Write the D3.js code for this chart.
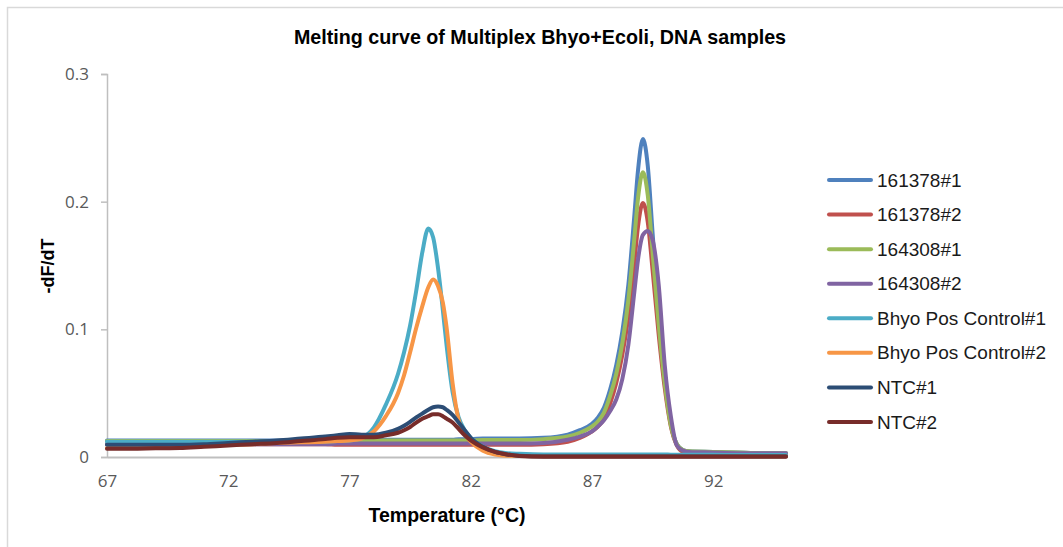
<!DOCTYPE html>
<html>
<head>
<meta charset="utf-8">
<script src="https://cdn.jsdelivr.net/npm/d3@7"></script>
<style>
  body { margin: 0; background: #ffffff; }
  svg { display: block; }
</style>
</head>
<body>
<svg id="chart" width="1063" height="547"></svg>
<script>
// Melting temperatures (°C) shared by every sample
const temperatures = [
  67, 68, 69, 70, 71, 72, 73, 74, 75, 76,
  76.5, 77, 77.5, 78, 78.5, 79, 79.25, 79.5, 79.75, 80,
  80.25, 80.45, 80.65, 80.85, 81, 81.25, 81.5, 81.75, 82, 82.5,
  83, 83.5, 84, 85, 86, 86.5, 87, 87.25, 87.5, 87.75,
  88, 88.25, 88.5, 88.75, 88.9, 89.1, 89.3, 89.5, 89.75, 90,
  90.25, 90.5, 90.75, 91, 92, 93, 94, 95
];

// -dF/dT for each sample
const s161378_1 = [
  0.013, 0.013, 0.013, 0.013, 0.013, 0.013, 0.013, 0.013, 0.013, 0.013,
  0.013, 0.013, 0.013, 0.0135, 0.0135, 0.0135, 0.0135, 0.0135, 0.0135, 0.0135,
  0.0135, 0.0135, 0.0135, 0.0135, 0.0135, 0.0135, 0.014, 0.014, 0.014, 0.0145,
  0.0145, 0.0145, 0.0145, 0.015, 0.0175, 0.021, 0.026, 0.031, 0.039, 0.053,
  0.072, 0.098, 0.135, 0.190, 0.225, 0.249, 0.228, 0.175, 0.113, 0.062,
  0.026, 0.010, 0.0055, 0.0045, 0.004, 0.0035, 0.003, 0.003
];
const s161378_2 = [
  0.010, 0.010, 0.010, 0.010, 0.010, 0.010, 0.010, 0.010, 0.010, 0.010,
  0.0095, 0.0095, 0.0095, 0.0095, 0.0095, 0.0095, 0.0095, 0.0095, 0.0095, 0.0095,
  0.0095, 0.0095, 0.0095, 0.0095, 0.0095, 0.0095, 0.0095, 0.0095, 0.0095, 0.0095,
  0.0095, 0.0095, 0.0095, 0.010, 0.012, 0.015, 0.020, 0.024, 0.030, 0.042,
  0.058, 0.080, 0.110, 0.153, 0.181, 0.199, 0.184, 0.146, 0.096, 0.054,
  0.024, 0.009, 0.004, 0.003, 0.0025, 0.002, 0.002, 0.002
];
const s164308_1 = [
  0.0125, 0.0125, 0.0125, 0.0125, 0.0125, 0.0125, 0.0125, 0.0125, 0.0125, 0.0125,
  0.013, 0.013, 0.013, 0.013, 0.013, 0.013, 0.013, 0.013, 0.013, 0.013,
  0.013, 0.013, 0.013, 0.013, 0.013, 0.013, 0.013, 0.013, 0.013, 0.0133,
  0.0133, 0.0133, 0.0133, 0.014, 0.016, 0.019, 0.024, 0.028, 0.035, 0.048,
  0.065, 0.089, 0.123, 0.172, 0.203, 0.223, 0.205, 0.160, 0.104, 0.058,
  0.025, 0.010, 0.0055, 0.0045, 0.004, 0.0035, 0.003, 0.003
];
const s164308_2 = [
  0.010, 0.010, 0.010, 0.010, 0.010, 0.010, 0.010, 0.010, 0.010, 0.010,
  0.0105, 0.0105, 0.0105, 0.0105, 0.0105, 0.0105, 0.0105, 0.0105, 0.0105, 0.0105,
  0.0105, 0.0105, 0.0105, 0.0105, 0.0105, 0.0105, 0.0105, 0.0105, 0.0105, 0.0105,
  0.0105, 0.0105, 0.0105, 0.011, 0.0135, 0.016, 0.020, 0.024, 0.029, 0.036,
  0.045, 0.061, 0.088, 0.130, 0.155, 0.174, 0.177, 0.170, 0.135, 0.072,
  0.032, 0.009, 0.005, 0.004, 0.0035, 0.003, 0.003, 0.003
];
const bhyoPos_1 = [
  0.012, 0.012, 0.012, 0.012, 0.012, 0.012, 0.012, 0.012, 0.012, 0.012,
  0.0125, 0.013, 0.015, 0.023, 0.041, 0.065, 0.082, 0.103, 0.130, 0.160,
  0.179, 0.172, 0.148, 0.115, 0.088, 0.051, 0.031, 0.021, 0.015, 0.008,
  0.0045, 0.003, 0.0025, 0.002, 0.002, 0.002, 0.002, 0.002, 0.002, 0.002,
  0.002, 0.002, 0.002, 0.002, 0.002, 0.002, 0.002, 0.002, 0.002, 0.002,
  0.0018, 0.0018, 0.0018, 0.0018, 0.0017, 0.0016, 0.0016, 0.0015
];
const bhyoPos_2 = [
  0.007, 0.0075, 0.008, 0.0085, 0.009, 0.0095, 0.010, 0.011, 0.0115, 0.012,
  0.0125, 0.013, 0.0145, 0.020, 0.032, 0.050, 0.064, 0.082, 0.101, 0.118,
  0.133, 0.139, 0.134, 0.121, 0.102, 0.058, 0.029, 0.018, 0.012, 0.005,
  0.002, 0.001, 0.0008, 0.0006, 0.0006, 0.0006, 0.0006, 0.0006, 0.0006, 0.0006,
  0.0006, 0.0006, 0.0006, 0.0006, 0.0006, 0.0006, 0.0006, 0.0006, 0.0006, 0.0006,
  0.0005, 0.0005, 0.0005, 0.0005, 0.0005, 0.0005, 0.0005, 0.0005
];
const ntc_1 = [
  0.0095, 0.0095, 0.0095, 0.0095, 0.010, 0.011, 0.012, 0.013, 0.0145, 0.016,
  0.017, 0.018, 0.0175, 0.0175, 0.019, 0.022, 0.0245, 0.0275, 0.031, 0.034,
  0.037, 0.039, 0.0395, 0.039, 0.037, 0.033, 0.027, 0.021, 0.015, 0.008,
  0.004, 0.002, 0.001, 0.0006, 0.0006, 0.0006, 0.0006, 0.0006, 0.0006, 0.0006,
  0.0006, 0.0006, 0.0006, 0.0006, 0.0006, 0.0006, 0.0006, 0.0006, 0.0006, 0.0006,
  0.0006, 0.0006, 0.0006, 0.0006, 0.0006, 0.0006, 0.0006, 0.0006
];
const ntc_2 = [
  0.0065, 0.0065, 0.0068, 0.007, 0.008, 0.009, 0.010, 0.011, 0.0125, 0.014,
  0.015, 0.0155, 0.0155, 0.0155, 0.017, 0.019, 0.021, 0.0235, 0.027, 0.030,
  0.032, 0.0335, 0.0335, 0.032, 0.030, 0.027, 0.022, 0.017, 0.013, 0.0075,
  0.004, 0.002, 0.0008, 0.0002, 0.0002, 0.0002, 0.0002, 0.0002, 0.0002, 0.0002,
  0.0002, 0.0002, 0.0002, 0.0002, 0.0002, 0.0002, 0.0002, 0.0002, 0.0002, 0.0002,
  0.0002, 0.0002, 0.0002, 0.0002, 0.0002, 0.0002, 0.0002, 0.0002
];

const seriesNames = ["161378#1", "161378#2", "164308#1", "164308#2",
  "Bhyo Pos Control#1", "Bhyo Pos Control#2", "NTC#1", "NTC#2"];
const seriesValues = [s161378_1, s161378_2, s164308_1, s164308_2,
  bhyoPos_1, bhyoPos_2, ntc_1, ntc_2];
const seriesColors = ["#4F81BD", "#C0504D", "#9BBB59", "#8064A2",
  "#4BACC6", "#F79646", "#2C4D75", "#772C2A"];

const xTickValues = [67, 72, 77, 82, 87, 92];
const yTickValues = [0, 0.1, 0.2, 0.3];

const titleText = "Melting curve of Multiplex Bhyo+Ecoli, DNA samples";
const xTitle = "Temperature (°C)";
const yTitle = "-dF/dT";

const series = seriesNames.map((name, i) => ({
  name,
  color: seriesColors[i],
  points: temperatures.map((t, j) => ({ t, v: seriesValues[i][j] }))
}));

const svg = d3.select("#chart");
const plot = { left: 107, right: 786, top: 74, bottom: 457 };

// chart frame (only top and left edges fall inside the view)
svg.append("rect")
  .attr("x", 7.5).attr("y", 7.5)
  .attr("width", 1100).attr("height", 600)
  .attr("fill", "none")
  .attr("stroke", "#d9d9d9")
  .attr("stroke-width", 1.5);

const x = d3.scaleLinear().domain([67, 95]).range([plot.left, plot.right]);
const y = d3.scaleLinear().domain([0, 0.3]).range([plot.bottom, plot.top]);

// Y axis
const yAxis = svg.append("g")
  .attr("transform", `translate(${plot.left},0)`)
  .call(d3.axisLeft(y).tickValues(yTickValues)
    .tickFormat(d => d === 0 ? "0" : d3.format(".1f")(d))
    .tickSize(6).tickPadding(12));
yAxis.select(".domain").attr("stroke", "#bfbfbf").attr("stroke-width", 1.5);
yAxis.selectAll(".tick line").attr("stroke", "#bfbfbf").attr("stroke-width", 1.5);
yAxis.selectAll(".tick text")
  .attr("fill", "#595959")
  .style("font-family", "'Open Sans', sans-serif")
  .style("font-size", "17px");

// X axis
const xAxis = svg.append("g")
  .attr("transform", `translate(0,${plot.bottom})`)
  .call(d3.axisBottom(x).tickValues(xTickValues).tickSize(0).tickPadding(18));
xAxis.select(".domain").attr("stroke", "#bfbfbf").attr("stroke-width", 2);
xAxis.selectAll(".tick text")
  .attr("fill", "#595959")
  .style("font-family", "'Open Sans', sans-serif")
  .style("font-size", "17px");

// curves
const line = d3.line()
  .x(d => x(d.t))
  .y(d => y(d.v))
  .curve(d3.curveMonotoneX);

svg.append("g")
  .selectAll("path")
  .data(series)
  .join("path")
  .attr("d", d => line(d.points))
  .attr("fill", "none")
  .attr("stroke", d => d.color)
  .attr("stroke-width", 4)
  .attr("stroke-linejoin", "round")
  .attr("stroke-linecap", "round");

// titles
svg.append("text")
  .attr("x", 540).attr("y", 37)
  .attr("text-anchor", "middle")
  .attr("dominant-baseline", "central")
  .style("font-family", "'Liberation Sans', Arial, sans-serif")
  .style("font-weight", "bold")
  .style("font-size", "19.7px")
  .attr("fill", "#000")
  .text(titleText);

svg.append("text")
  .attr("x", 447).attr("y", 515)
  .attr("text-anchor", "middle")
  .attr("dominant-baseline", "central")
  .style("font-family", "'Liberation Sans', Arial, sans-serif")
  .style("font-weight", "bold")
  .style("font-size", "19.5px")
  .attr("fill", "#000")
  .text(xTitle);

svg.append("text")
  .attr("transform", "translate(48,266) rotate(-90)")
  .attr("text-anchor", "middle")
  .attr("dominant-baseline", "central")
  .style("font-family", "'Liberation Sans', Arial, sans-serif")
  .style("font-weight", "bold")
  .style("font-size", "18px")
  .attr("fill", "#000")
  .text(yTitle);

// legend
const legend = svg.append("g");
const rowY = d3.scalePoint().domain(seriesNames).range([180, 422]);
const rows = legend.selectAll("g")
  .data(series)
  .join("g")
  .attr("transform", d => `translate(0,${rowY(d.name)})`);
rows.append("line")
  .attr("x1", 829).attr("x2", 871)
  .attr("stroke", d => d.color)
  .attr("stroke-width", 4)
  .attr("stroke-linecap", "round");
rows.append("text")
  .attr("x", 877)
  .attr("dominant-baseline", "central")
  .style("font-family", "'Liberation Sans', Arial, sans-serif")
  .style("font-size", "19px")
  .attr("fill", "#1a1a1a")
  .text(d => d.name);
</script>
</body>
</html>
